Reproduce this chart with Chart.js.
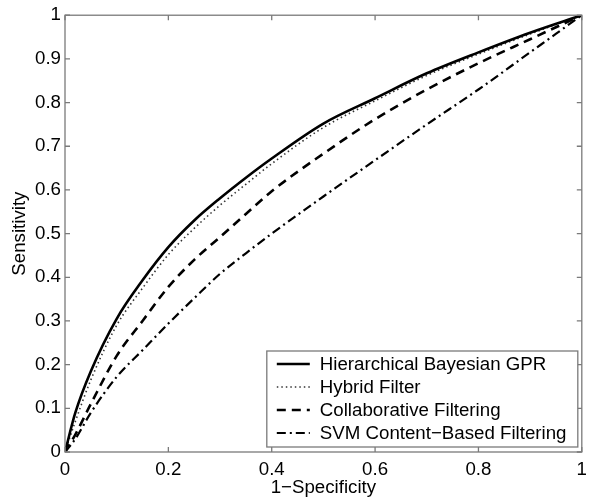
<!DOCTYPE html>
<html><head><meta charset="utf-8">
<script src="https://cdn.jsdelivr.net/npm/chart.js@4.4.1/dist/chart.umd.min.js"></script>
<style>html,body{margin:0;padding:0;background:#fff;overflow:hidden}</style>
</head><body>
<canvas id="c" width="594" height="499"></canvas>
<script>
// ---- data ----
const fpr      = [0, 0.02, 0.05, 0.10, 0.15, 0.20, 0.25, 0.30, 0.35, 0.40, 0.50, 0.60, 0.70, 0.80, 0.90, 1.00];
const gprTPR   = [0, 0.09, 0.185, 0.305, 0.393, 0.469, 0.530, 0.581, 0.628, 0.672, 0.752, 0.810, 0.867, 0.915, 0.960, 1.00];
const hybridTPR= [0, 0.07, 0.165, 0.290, 0.375, 0.452, 0.512, 0.565, 0.613, 0.660, 0.743, 0.804, 0.862, 0.911, 0.957, 1.00];
const collabTPR= [0, 0.04, 0.110, 0.220, 0.300, 0.378, 0.440, 0.492, 0.545, 0.597, 0.683, 0.762, 0.830, 0.890, 0.945, 1.00];
const svmTPR   = [0, 0.03, 0.090, 0.172, 0.233, 0.294, 0.352, 0.408, 0.455, 0.500, 0.585, 0.668, 0.750, 0.830, 0.915, 1.00];
const seriesNames = ["Hierarchical Bayesian GPR", "Hybrid Filter", "Collaborative Filtering", "SVM Content\u2212Based Filtering"];
const xTickValues = [0, 0.2, 0.4, 0.6, 0.8, 1];
const yTickValues = [0, 0.1, 0.2, 0.3, 0.4, 0.5, 0.6, 0.7, 0.8, 0.9, 1];
const xTitle = "1\u2212Specificity";
const yTitle = "Sensitivity";

const FONT = '"Liberation Sans", Arial, Helvetica, sans-serif';
const FS = 18.7;
const AXIS = '#7a7a7a';

const seriesValues = [gprTPR, hybridTPR, collabTPR, svmTPR];
const styles = [
  {borderColor:'#000', borderWidth:2.6, borderDash:[]},
  {borderColor:'#333', borderWidth:1.6, borderDash:[1.5,3]},
  {borderColor:'#000', borderWidth:2.6, borderDash:[9,6]},
  {borderColor:'#000', borderWidth:2.2, borderDash:[9,4,2,4]}
];
const datasets = seriesValues.map((vals,i)=>Object.assign({
  label: seriesNames[i],
  data: fpr.map((x,j)=>({x:x, y:vals[j]})),
  pointRadius:0, fill:false, cubicInterpolationMode:'monotone'
}, styles[i]));

const fmt = v => String(+Number(v).toFixed(1));

const boxPlugin = {
  id:'boxTicks',
  afterDatasetsDraw(chart){
    const {ctx, chartArea:a, scales:{x, y}} = chart;
    ctx.save();
    ctx.strokeStyle = AXIS; ctx.lineWidth = 1.3; ctx.setLineDash([]);
    ctx.strokeRect(a.left, a.top, a.right-a.left, a.bottom-a.top);
    const L = 5;
    ctx.beginPath();
    xTickValues.forEach(v=>{
      const px = x.getPixelForValue(v);
      ctx.moveTo(px, a.bottom); ctx.lineTo(px, a.bottom-L);
      ctx.moveTo(px, a.top); ctx.lineTo(px, a.top+L);
    });
    yTickValues.forEach(v=>{
      const py = y.getPixelForValue(v);
      ctx.moveTo(a.left, py); ctx.lineTo(a.left+L, py);
      ctx.moveTo(a.right, py); ctx.lineTo(a.right-L, py);
    });
    ctx.stroke();
    ctx.restore();
  },
  afterDraw(chart){
    const {ctx, chartArea:a} = chart;
    const right = a.right - 4, bottom = a.bottom - 5;
    const w = 311, h = 96;
    const left = right - w, top = bottom - h;
    ctx.save();
    ctx.fillStyle = '#fff';
    ctx.fillRect(left, top, w, h);
    ctx.strokeStyle = AXIS; ctx.lineWidth = 1.3; ctx.setLineDash([]);
    ctx.strokeRect(left, top, w, h);
    ctx.font = FS + 'px ' + FONT;
    ctx.textBaseline = 'middle';
    ctx.fillStyle = '#000';
    chart.data.datasets.forEach((ds,i)=>{
      const yy = top + 13 + i*23;
      ctx.beginPath();
      ctx.strokeStyle = ds.borderColor; ctx.lineWidth = ds.borderWidth;
      ctx.setLineDash(ds.borderDash);
      ctx.moveTo(left+10, yy); ctx.lineTo(left+43, yy);
      ctx.stroke();
      ctx.setLineDash([]);
      ctx.fillText(ds.label, left+53, yy+1);
    });
    ctx.restore();
  }
};

new Chart(document.getElementById('c'), {
  type:'line',
  data:{datasets},
  options:{
    responsive:false, animation:false, devicePixelRatio:1,
    layout:{padding:{top:15, right:4, left:0, bottom:0}},
    plugins:{legend:{display:false}, tooltip:{enabled:false}},
    scales:{
      x:{type:'linear', min:0, max:1,
         afterBuildTicks: s => { s.ticks = xTickValues.map(v=>({value:v})); },
         afterFit: s => { s.height = 47; },
         grid:{display:false, drawTicks:false}, border:{display:false},
         ticks:{color:'#000', font:{family:FONT, size:FS}, padding:7, maxRotation:0, callback:fmt},
         title:{display:true, text:xTitle, color:'#000', font:{family:FONT, size:FS}, padding:{top:0,bottom:0}}},
      y:{type:'linear', min:0, max:1,
         afterBuildTicks: s => { s.ticks = yTickValues.map(v=>({value:v})); },
         afterFit: s => { s.width = 65; },
         grid:{display:false, drawTicks:false}, border:{display:false},
         ticks:{color:'#000', font:{family:FONT, size:FS}, padding:4, callback:fmt},
         title:{display:true, text:yTitle, color:'#000', font:{family:FONT, size:FS}, padding:{top:9,bottom:0}}}
    }
  },
  plugins:[boxPlugin]
});
</script>
</body></html>
